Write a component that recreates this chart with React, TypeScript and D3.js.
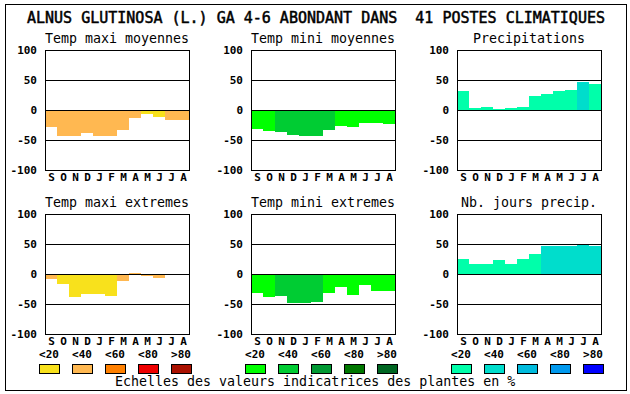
import React from "react";
import * as d3 from "d3";

const months = ["S", "O", "N", "D", "J", "F", "M", "A", "M", "J", "J", "A"];
const yTicks = [100, 50, 0, -50, -100];
const gridLines = [50, 0, -50];
const legendLabels = ["<20", "<40", "<60", "<80", ">80"];

// bar heights, class = index into the palette
const maxiMoyValues = [-28, -43, -44, -38, -44, -44, -33, -13, -6, -11, -16, -16];
const maxiMoyClass = [1, 1, 1, 1, 1, 1, 1, 1, 0, 0, 1, 1];
const miniMoyValues = [-31, -35, -36, -41, -43, -43, -33, -26, -28, -22, -22, -24];
const miniMoyClass = [0, 0, 1, 1, 1, 1, 1, 0, 0, 0, 0, 0];
const precipValues = [32, 4, 5, 2, 4, 5, 24, 27, 32, 34, 47, 44];
const precipClass = [0, 0, 0, 0, 0, 0, 0, 0, 0, 0, 1, 0];
const maxiExtValues = [-8, -16, -38, -34, -34, -36, -11, 2, -3, -6, 0, -2];
const maxiExtClass = [1, 0, 0, 0, 0, 0, 1, 1, 1, 1, 1, 1];
const miniExtValues = [-31, -38, -36, -48, -48, -46, -31, -21, -35, -18, -28, -28];
const miniExtClass = [0, 0, 1, 1, 1, 1, 0, 0, 0, 0, 0, 0];
const joursValues = [25, 17, 17, 24, 17, 25, 34, 47, 47, 46, 49, 46];
const joursClass = [0, 0, 0, 0, 0, 0, 0, 1, 1, 1, 1, 1];

const warmColors = ["#f8e11c", "#ffb851", "#ff8000", "#ee0000", "#aa1100"];
const coldColors = ["#00ff00", "#00cc33", "#009933", "#007700", "#006622"];
const wetColors = ["#00ffaa", "#00ddcc", "#00bbdd", "#0099ee", "#0000ff"];

const mono = "'DejaVu Sans Mono', monospace";

const panels = [
  { title: "Temp maxi moyennes", values: maxiMoyValues, cls: maxiMoyClass, colors: warmColors, x: 45, y: 50 },
  { title: "Temp mini moyennes", values: miniMoyValues, cls: miniMoyClass, colors: coldColors, x: 251, y: 50 },
  { title: "Precipitations", values: precipValues, cls: precipClass, colors: wetColors, x: 457, y: 50 },
  { title: "Temp maxi extremes", values: maxiExtValues, cls: maxiExtClass, colors: warmColors, x: 45, y: 214 },
  { title: "Temp mini extremes", values: miniExtValues, cls: miniExtClass, colors: coldColors, x: 251, y: 214 },
  { title: "Nb. jours precip.", values: joursValues, cls: joursClass, colors: wetColors, x: 457, y: 214 },
];

const W = 144;
const H = 120;

const Panel = ({ p }) => {
  const x = d3.scaleBand<number>().domain(d3.range(months.length)).range([0, W]).padding(0);
  const y = d3.scaleLinear().domain([-100, 100]).range([H, 0]);
  const showLegend = p.y > 100;
  const legendX = d3.scaleLinear().domain([0, 4]).range([-6, -6 + 132]);
  return (
    <g transform={`translate(${p.x},${p.y})`}>
      <text x={W / 2} y={-7} textAnchor="middle" fontFamily={mono} fontSize={13.3}>
        {p.title}
      </text>
      {p.values.map((v, i) => (
        <rect
          key={i}
          x={x(i)}
          width={x.bandwidth()}
          y={y(Math.max(v, 0))}
          height={Math.abs(y(v) - y(0))}
          fill={p.colors[p.cls[i]]}
          shapeRendering="crispEdges"
        />
      ))}
      {gridLines.map((t) => (
        <line key={t} x1={0} x2={W} y1={y(t) + 0.5} y2={y(t) + 0.5} stroke="#000" shapeRendering="crispEdges" />
      ))}
      <rect x={0.5} y={0.5} width={W} height={H} fill="none" stroke="#000" shapeRendering="crispEdges" />
      {yTicks.map((t) => (
        <text key={t} x={-8} y={y(t) + 4} textAnchor="end" fontFamily={mono} fontSize={11} fontWeight="bold">
          {t}
        </text>
      ))}
      {months.map((m, i) => (
        <text
          key={i}
          x={(x(i) ?? 0) + x.bandwidth() / 2 + 0.5}
          y={H + 11}
          textAnchor="middle"
          fontFamily={mono}
          fontSize={11}
          fontWeight="bold"
        >
          {m}
        </text>
      ))}
      {showLegend &&
        legendLabels.map((l, i) => (
          <g key={l} transform={`translate(${legendX(i)},0)`}>
            <text x={10} y={H + 24} textAnchor="middle" fontFamily={mono} fontSize={11} fontWeight="bold">
              {l}
            </text>
            <rect x={0.5} y={H + 30.5} width={20} height={9} fill={p.colors[i]} stroke="#000" shapeRendering="crispEdges" />
          </g>
        ))}
    </g>
  );
};

export default function App() {
  return (
    <svg width={630} height={394} style={{ position: "absolute", left: 0, top: 0, background: "#fff" }}>
      <rect x={0} y={0} width={630} height={394} fill="#fff" />
      <rect x={5.5} y={4.5} width={621} height={386} fill="none" stroke="#000" shapeRendering="crispEdges" />
      <text
        x={27}
        y={23}
        fontFamily={mono}
        fontSize={15}
        stroke="#000"
        strokeWidth={0.5}
        style={{ whiteSpace: "pre" }}
      >
        {"ALNUS GLUTINOSA (L.) GA 4-6 ABONDANT DANS  41 POSTES CLIMATIQUES"}
      </text>
      {panels.map((p) => (
        <Panel key={p.title} p={p} />
      ))}
      <text x={115} y={386} fontFamily={mono} fontSize={13.3} style={{ whiteSpace: "pre" }}>
        Echelles des valeurs indicatrices des plantes en %
      </text>
    </svg>
  );
}
